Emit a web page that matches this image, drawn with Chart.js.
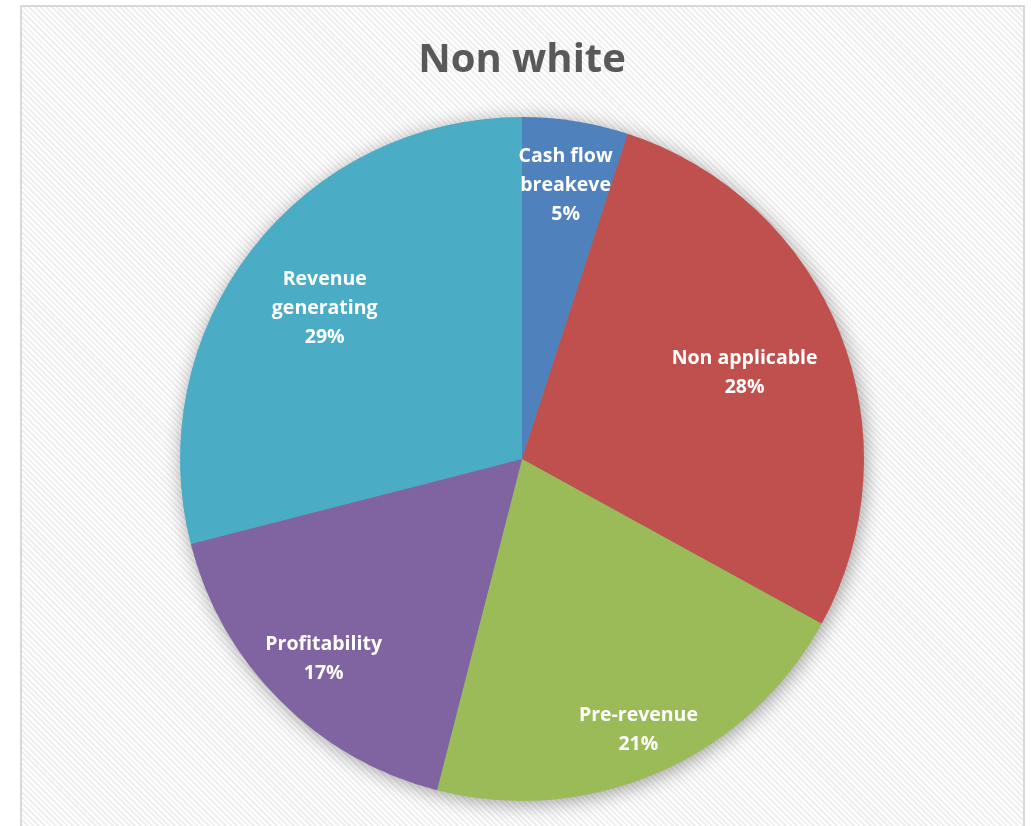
<!DOCTYPE html>
<html>
<head>
<meta charset="utf-8">
<script src="https://cdn.jsdelivr.net/npm/chart.js@4/dist/chart.umd.min.js"></script>
<style>
  html, body { margin: 0; padding: 0; background: #fff; overflow: hidden; }
  #frame {
    position: absolute; left: 20px; top: 5px; width: 1001px; height: 840px;
    border: 2px solid #d9d9d9;
    background: repeating-linear-gradient(45deg, #ffffff 0 2px, #efefef 2px 4px);
  }
  #myChart { position: absolute; left: 0; top: 0; }
</style>
</head>
<body>
<div id="frame"></div>
<canvas id="myChart" width="1031" height="826"></canvas>
<script>
const Categories = ["Cash flow breakeve", "Non applicable", "Pre-revenue", "Profitability", "Revenue generating"];
const LabelLines = [["Cash flow", "breakeve"], ["Non applicable"], ["Pre-revenue"], ["Profitability"], ["Revenue", "generating"]];
const Shares = [5, 28, 21, 17, 29];
const Colours = ["#4F81BD", "#C0504D", "#9BBB59", "#8064A2", "#4BACC6"];

// soft shadow drawn under the pie
const pieShadow = {
    id: "pieShadow",
    beforeDatasetsDraw(chart) {
        const arc = chart.getDatasetMeta(0).data[0];
        if (!arc) return;
        const ctx = chart.ctx;
        ctx.save();
        ctx.shadowColor = "rgba(0, 0, 0, 0.4)";
        ctx.shadowBlur = 20;
        ctx.shadowOffsetX = 2;
        ctx.shadowOffsetY = 3;
        ctx.fillStyle = "#888";
        ctx.beginPath();
        ctx.arc(arc.x, arc.y, arc.outerRadius - 1, 0, Math.PI * 2);
        ctx.fill();
        ctx.restore();
    }
};

// name + percent written inside each slice
const sliceLabels = {
    id: "sliceLabels",
    afterDatasetsDraw(chart, args, opts) {
        const ctx = chart.ctx;
        const meta = chart.getDatasetMeta(0);
        ctx.save();
        ctx.font = "bold 19.5px 'Open Sans'";
        ctx.fillStyle = "#ffffff";
        ctx.textAlign = "center";
        ctx.textBaseline = "middle";
        meta.data.forEach((arc, i) => {
            const p = arc.getProps(["x", "y", "startAngle", "endAngle", "outerRadius"], true);
            const mid = (p.startAngle + p.endAngle) / 2;
            const r = p.outerRadius * opts.radius[i];
            const cx = p.x + Math.cos(mid) * r;
            const cy = p.y + Math.sin(mid) * r + 2;
            const lines = LabelLines[i].concat([Shares[i] + "%"]);
            const lh = 29;
            const top = cy - (lines.length - 1) * lh / 2;
            lines.forEach((t, k) => ctx.fillText(t, cx, top + k * lh));
        });
        ctx.restore();
    }
};

const ctx = document.getElementById("myChart").getContext("2d");

const myChart = new Chart(ctx, {
    type: "pie",
    data: {
        labels: Categories,
        datasets: [{
            data: Shares,
            backgroundColor: Colours,
            borderWidth: 0
        }]
    },
    options: {
        responsive: false,
        animation: false,
        layout: { padding: { left: 100, right: 87, top: 0, bottom: 25 } },
        plugins: {
            legend: { display: false },
            tooltip: { enabled: false },
            title: {
                display: true,
                text: "Non white",
                color: "#595959",
                font: { family: "'Open Sans'", size: 40, weight: "bold", lineHeight: 1.2 },
                padding: { top: 37, bottom: 32 }
            },
            sliceLabels: { radius: [0.815, 0.70, 0.857, 0.82, 0.73] }
        }
    },
    plugins: [pieShadow, sliceLabels]
});
</script>
</body>
</html>
